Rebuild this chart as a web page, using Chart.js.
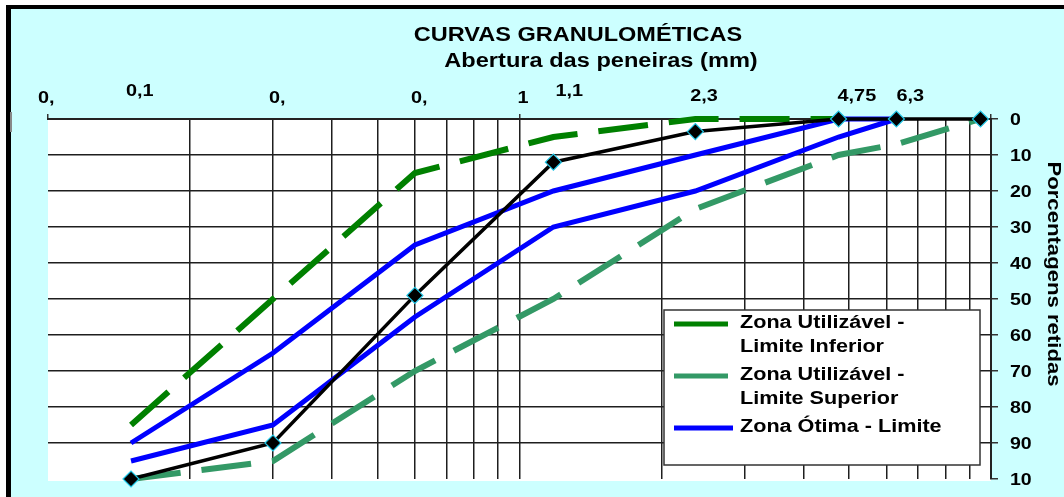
<!DOCTYPE html>
<html>
<head>
<meta charset="utf-8">
<script src="https://cdn.jsdelivr.net/npm/chart.js@4.4.0/dist/chart.umd.min.js"></script>
<style>
  html, body { margin: 0; padding: 0; background: #fff; overflow: hidden; }
  canvas { display: block; }
</style>
</head>
<body>
<canvas id="granulometria" width="1064" height="497"></canvas>
<script>
// aberturas das peneiras (mm)
const sieves = [0.15, 0.3, 0.6, 1.18, 2.36, 4.75, 6.3, 9.5];
// porcentagens retidas
const amostra = [100, 90, 49, 12, 3.5, 0, 0, 0];
const limInferior = [85, 50, 15, 5, 0, 0];
const limSuperior = [100, 95, 70, 50, 25, 10, 7, 0];
const otimaA = [90, 65, 35, 20, 10, 0, 0];
const otimaB = [95, 85, 55, 30, 20, 5, 0];

const gridX = [0.1, 0.2, 0.3, 0.4, 0.5, 0.6, 0.7, 0.8, 0.9, 1, 2, 3, 4, 5, 6, 7, 8, 9, 10];
const topLabelValues = [0.1, 0.15, 0.3, 0.6, 1, 1.18, 2.36, 4.75, 6.3];
const topLabelTexts = ['0,', '0,1', '0,', '0,', '1', '1,1', '2,3', '4,75', '6,3'];
const yTicks = [0, 10, 20, 30, 40, 50, 60, 70, 80, 90, 100];
const yTickLabels = ['0', '10', '20', '30', '40', '50', '60', '70', '80', '90', '10'];
const legendLabels = [
    ['Zona Utilizável -', 'Limite Inferior'],
    ['Zona Utilizável -', 'Limite Superior'],
    ['Zona Ótima - Limite']
];

const FONT = '"Liberation Sans", Arial, sans-serif';
const CYAN = '#ccffff';

function pts(values) {
    return values.map(function (v, i) { return {x: sieves[i], y: v}; });
}

// o texto do grafico original esta esticado na horizontal
function wideText(ctx, text, x, y, align, sx) {
    ctx.save();
    ctx.translate(x, y);
    ctx.scale(sx, 1);
    ctx.textAlign = align;
    ctx.fillText(text, 0, 0);
    ctx.restore();
}

var decorPlugin = {
    id: 'decor',
    beforeDraw: function (chart) {
        var ctx = chart.ctx, ca = chart.chartArea;
        ctx.save();
        ctx.fillStyle = '#fff';
        ctx.fillRect(0, 0, chart.width, chart.height);
        ctx.fillStyle = CYAN;
        ctx.fillRect(11, 9, chart.width - 11, chart.height - 9);
        ctx.fillStyle = '#000';
        ctx.fillRect(6, 5, chart.width - 6, 4);
        ctx.fillRect(6, 5, 5, chart.height - 5);
        ctx.fillStyle = '#888';
        ctx.fillRect(10, 112, 2, 20);
        ctx.fillStyle = '#fff';
        ctx.fillRect(ca.left, ca.top, ca.right - ca.left, ca.bottom - ca.top + 2);
        ctx.restore();
    },
    afterDraw: function (chart) {
        var ctx = chart.ctx;
        ctx.save();
        ctx.fillStyle = '#000';
        ctx.textBaseline = 'middle';

        // titulos
        ctx.font = 'bold 21px ' + FONT;
        wideText(ctx, 'CURVAS GRANULOMÉTICAS', 578, 35, 'center', 1.12);
        ctx.font = 'bold 20px ' + FONT;
        wideText(ctx, 'Abertura das peneiras (mm)', 601, 61, 'center', 1.18);

        // rotulos das peneiras, em cima
        var xs = chart.scales.x;
        var rowY = [99, 92, 99, 99, 99, 92, 97, 97, 97];
        var shift = [-10, -5, -4, -4, -2, 2, -5, -1, 0];
        ctx.font = 'bold 16px ' + FONT;
        for (var i = 0; i < topLabelValues.length; i++) {
            wideText(ctx, topLabelTexts[i], xs.getPixelForValue(topLabelValues[i]) + shift[i], rowY[i], 'left', 1.24);
        }

        // rotulos do eixo y
        var ys = chart.scales.y;
        ctx.font = 'bold 17px ' + FONT;
        for (var k = 0; k < yTicks.length; k++) {
            wideText(ctx, yTickLabels[k], chart.chartArea.right + 19, ys.getPixelForValue(yTicks[k]) + 1, 'left', 1.15);
        }

        // titulo do eixo y
        ctx.translate(1053, 274);
        ctx.rotate(Math.PI / 2);
        ctx.font = 'bold 18px ' + FONT;
        wideText(ctx, 'Porcentagens retidas', 0, 0, 'center', 1.23);
        ctx.restore();
    },
    afterDatasetsDraw: function (chart) {
        var ctx = chart.ctx, ca = chart.chartArea;
        var bx = ca.right - 327, by = 310, bw = 316, bh = 155;
        ctx.save();
        ctx.fillStyle = '#fff';
        ctx.fillRect(bx, by, bw, bh);
        ctx.strokeStyle = '#333';
        ctx.lineWidth = 1.5;
        ctx.strokeRect(bx, by, bw, bh);
        ctx.font = 'bold 18px ' + FONT;
        ctx.textBaseline = 'middle';
        ctx.fillStyle = '#000';
        var y = by + 13;
        var order = [4, 3, 1];
        for (var i = 0; i < legendLabels.length; i++) {
            var ds = chart.data.datasets[order[i]];
            ctx.strokeStyle = ds.borderColor;
            ctx.lineWidth = 5;
            ctx.beginPath();
            ctx.moveTo(bx + 10, y + 1);
            ctx.lineTo(bx + (i === 2 ? 69 : 64), y + 1);
            ctx.stroke();
            for (var j = 0; j < legendLabels[i].length; j++) {
                wideText(ctx, legendLabels[i][j], bx + 76, y + j * 24, 'left', 1.2);
            }
            y += legendLabels[i].length * 24 + 4;
        }
        ctx.restore();
    }
};

var gridColor = '#1e1e1e';

new Chart(document.getElementById('granulometria'), {
    type: 'line',
    data: {
        datasets: [
            {
                label: 'Amostra', data: pts(amostra), order: 0,
                borderColor: '#000', borderWidth: 3.5,
                pointStyle: 'rectRot', pointRadius: 8,
                pointBackgroundColor: '#000', pointBorderColor: '#22c8e8', pointBorderWidth: 1.2
            },
            {
                label: 'Zona Ótima - Limite', data: pts(otimaA), order: 1,
                borderColor: '#0000ff', borderWidth: 5, pointRadius: 0
            },
            {
                label: 'Zona Ótima - Limite (2)', data: pts(otimaB), order: 1,
                borderColor: '#0000ff', borderWidth: 5, pointRadius: 0
            },
            {
                label: 'Zona Utilizável - Limite Superior', data: pts(limSuperior), order: 2,
                borderColor: '#339966', borderWidth: 6, borderDash: [50, 21], pointRadius: 0
            },
            {
                label: 'Zona Utilizável - Limite Inferior', data: pts(limInferior), order: 3,
                borderColor: '#008000', borderWidth: 6, borderDash: [50, 21], pointRadius: 0
            }
        ]
    },
    options: {
        responsive: false,
        animation: false,
        devicePixelRatio: 1,
        layout: {padding: {left: 48, top: 0, right: 0, bottom: 18}},
        elements: {line: {tension: 0, borderCapStyle: 'butt'}},
        datasets: {line: {clip: false}},
        plugins: {legend: {display: false}, tooltip: {enabled: false}, title: {display: false}},
        scales: {
            x: {
                type: 'logarithmic',
                position: 'top',
                min: 0.1,
                max: 10,
                afterBuildTicks: function (axis) {
                    axis.ticks = gridX.map(function (v) { return {value: v}; });
                },
                afterFit: function (axis) { axis.height = 119; },
                ticks: {display: false},
                grid: {
                    color: function (c) { return c.tick && c.tick.value === 0.1 ? 'rgba(0,0,0,0)' : gridColor; },
                    lineWidth: 1.5,
                    drawTicks: true,
                    tickLength: 5,
                    tickColor: function (c) {
                        var v = c.tick ? c.tick.value : 0;
                        return Math.abs(Math.log10(v) - Math.round(Math.log10(v))) < 1e-9 ? '#333' : 'rgba(0,0,0,0)';
                    }
                },
                border: {display: true, color: '#222', width: 2}
            },
            y: {
                type: 'linear',
                position: 'right',
                reverse: true,
                min: 0,
                max: 100,
                afterBuildTicks: function (axis) {
                    axis.ticks = yTicks.map(function (v) { return {value: v}; });
                },
                afterFit: function (axis) { axis.width = 73; },
                ticks: {display: false},
                grid: {
                    color: function (c) { return c.tick && c.tick.value === 100 ? 'rgba(0,0,0,0)' : gridColor; },
                    lineWidth: 1.5,
                    drawTicks: true,
                    tickLength: 7,
                    tickColor: '#333'
                },
                border: {display: true, color: '#222', width: 2}
            }
        }
    },
    plugins: [decorPlugin]
});
</script>
</body>
</html>
